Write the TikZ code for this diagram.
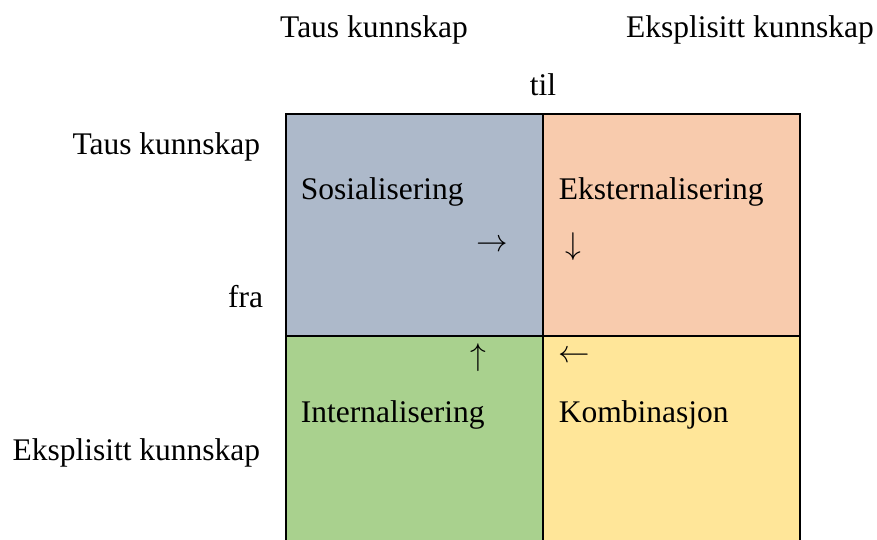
\RequirePackage{fix-cm}
\documentclass[tikz,border=0pt]{standalone}
\usepackage{fontspec}
\setmainfont{Liberation Serif}
\usepackage{tikz}
\definecolor{CellBlue}{HTML}{ADB9CA}
\definecolor{CellOrange}{HTML}{F8CBAD}
\definecolor{CellGreen}{HTML}{A9D18E}
\definecolor{CellYellow}{HTML}{FFE699}

\begin{document}
\begin{tikzpicture}[x=1pt, y=-1pt, line width=1.6pt,
  every node/.style={font=\fontsize{31.5}{38}\selectfont, inner sep=0pt}]
\useasboundingbox (0,0) rectangle (877,540);
\clip (0,0) rectangle (877,540);
% Quadrants
    \draw[fill=CellBlue] (286,114) rectangle (543,336);
    \draw[fill=CellOrange] (543,114) rectangle (800,336);
    \draw[fill=CellGreen] (286,336) rectangle (543,560);
    \draw[fill=CellYellow] (543,336) rectangle (800,560);
% Column heads
    \node[anchor=base] (tausTop) at (374,38) {Taus kunnskap};
    \node[anchor=base] (eksplTop) at (750,38) {Eksplisitt kunnskap};
    \node[anchor=base] (til) at (543,96) {til};
% Row heads
    \node[anchor=base east] (tausLeft) at (261,155) {Taus kunnskap};
    \node[anchor=base east] (fra) at (264,307) {fra};
    \node[anchor=base east] (eksplLeft) at (261,460) {Eksplisitt kunnskap};
% Quadrant names
    \node[anchor=base west] (sos) at (300,199) {Sosialisering};
    \node[anchor=base west] (ekst) at (558,199) {Eksternalisering};
    \node[anchor=base west] (intern) at (300,422) {Internalisering};
    \node[anchor=base west] (komb) at (558,422) {Kombinasjon};
% Turn arrows
    \node (tilHoyre) at (492,246) {$\rightarrow$};
    \node (ned) at (573,247) {$\downarrow$};
    \node (opp) at (478,358) {$\uparrow$};
    \node (tilVenstre) at (574,357) {$\leftarrow$};
\end{tikzpicture}
\end{document}
